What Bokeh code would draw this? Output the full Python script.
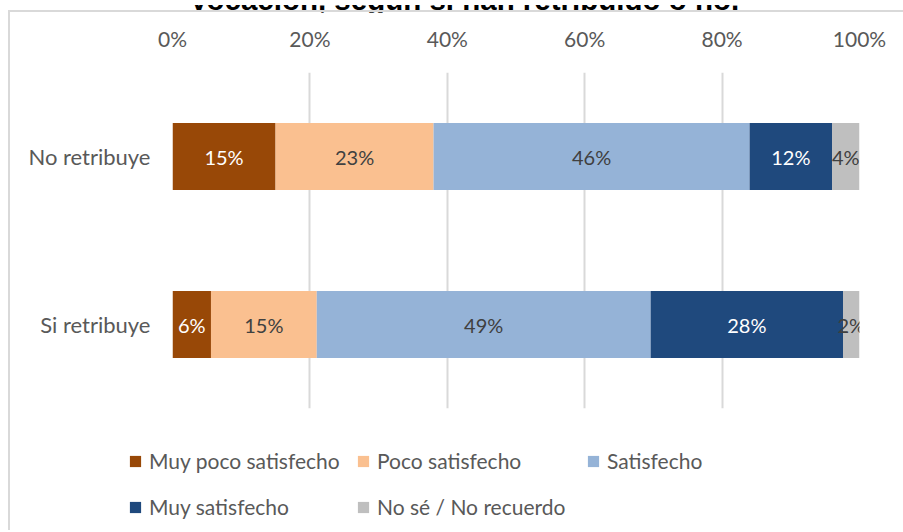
from bokeh.plotting import figure
from bokeh.layouts import column
from bokeh.models import (Range1d, FactorRange, ColumnDataSource, Legend, LegendItem,
                          FixedTicker, PrintfTickFormatter, Div)
from bokeh.core.properties import value
from bokeh.embed import file_html
from bokeh.resources import INLINE

title_text = "Vocación, según si han retribuido o no."
categories = ["No retribuye", "Si retribuye"]
levels = ["Muy poco satisfecho", "Poco satisfecho", "Satisfecho",
          "Muy satisfecho", "No sé / No recuerdo"]
colors = ["#984807", "#FAC090", "#95B3D7", "#1F497D", "#BFBFBF"]
label_colors = ["#FFFFFF", "#404040", "#404040", "#FFFFFF", "#404040"]
no_retribuye = [15, 23, 46, 12, 4]
si_retribuye = [5.6, 15.4, 48.6, 28.0, 2.4]
x_ticks = [0, 20, 40, 60, 80, 100]

series = {"No retribuye": no_retribuye, "Si retribuye": si_retribuye}

FONT = "Lato"
GREY = "#595959"
BORDER = "#D9D9D9"

# ---------- title (only its lower part shows at the top edge) ----------
title_div = Div(
    text=('<div style="position:relative;top:-7px;margin-top:-31px;'
          'margin-left:184px;white-space:nowrap;'
          'font-family:\'Liberation Sans\';font-weight:bold;font-size:29.5px;'
          'line-height:30px;color:#000;">' + title_text + '</div>'),
    width=903, height=10,
    styles={"overflow": "hidden", "height": "10px", "min-height": "0px",
            "max-height": "10px"})

# ---------- main chart ----------
p = figure(width=893, height=430,
           x_range=Range1d(0, 100),
           y_range=FactorRange(factors=categories[::-1]),
           x_axis_location="above",
           output_backend="svg", toolbar_location=None,
           min_border_left=162, min_border_right=44,
           min_border_top=60, min_border_bottom=34)
p.outline_line_color = None

sources = []
renderers = []
for i, lev in enumerate(levels):
    left = [sum(series[c][:i]) for c in categories]
    right = [sum(series[c][:i + 1]) for c in categories]
    vals = [series[c][i] for c in categories]
    src = ColumnDataSource(dict(
        y=categories, left=left, right=right,
        mid=[(l + r) / 2 for l, r in zip(left, right)],
        lab=[f"{v:.0f}%" for v in vals]))
    r = p.hbar(y="y", left="left", right="right", height=0.4, source=src,
               fill_color=colors[i], line_color=None)
    p.text(x="mid", y="y", text="lab", source=src, text_align="center",
           text_baseline="middle", text_color=label_colors[i],
           text_font=value(FONT), text_font_size="20px")
    sources.append(src)
    renderers.append(r)

for ax in (p.xaxis[0], p.yaxis[0]):
    ax.axis_line_color = None
    ax.major_tick_line_color = None
    ax.minor_tick_line_color = None
    ax.major_tick_out = 0
    ax.minor_tick_out = 0
    ax.major_label_text_font = FONT
    ax.major_label_text_color = GREY

p.xaxis.ticker = FixedTicker(ticks=x_ticks)
p.xaxis.formatter = PrintfTickFormatter(format="%d%%")
p.xaxis.major_label_text_font_size = "21px"
p.xaxis.major_label_standoff = 22
p.yaxis.major_label_text_font_size = "22px"
p.yaxis.major_label_standoff = 22

p.xgrid.grid_line_color = BORDER
p.xgrid.grid_line_width = 2
p.ygrid.grid_line_color = None

# ---------- legend strip (its own canvas; its bar renderers are hidden) ----------
leg_fig = figure(width=893, height=88,
                 x_range=Range1d(1000, 1001),
                 y_range=FactorRange(factors=categories[::-1]),
                 x_axis_type=None, y_axis_type=None,
                 output_backend="svg", toolbar_location=None,
                 min_border=0)
leg_fig.frame_align = False
p.frame_align = False
leg_fig.outline_line_color = None
leg_fig.grid.visible = False

col_x = [118, 346, 576]
row_y = [57, 11]
for i, lev in enumerate(levels):
    sw = leg_fig.hbar(y="y", left="left", right="right", height=0.4,
                      source=sources[i], fill_color=colors[i], line_color=None)
    sw.visible = False
    row, col = divmod(i, 3)
    leg = Legend(items=[LegendItem(label=lev, renderers=[sw])],
                 location=(col_x[col], row_y[row]), orientation="horizontal",
                 background_fill_alpha=0, border_line_color=None,
                 padding=0, margin=0, spacing=0,
                 glyph_width=14, glyph_height=14, label_standoff=7,
                 label_height=14,
                 label_text_font=FONT, label_text_font_size="21px",
                 label_text_color=GREY)
    leg_fig.add_layout(leg, "center")

inner = column(p, leg_fig, spacing=0,
               styles={"border-top": f"2px solid {BORDER}",
                       "border-left": f"2px solid {BORDER}",
                       "margin-left": "8px", "margin-top": "-10px"})
root = column(title_div, inner, spacing=0)

open("out.html", "w").write(file_html(root, INLINE))
